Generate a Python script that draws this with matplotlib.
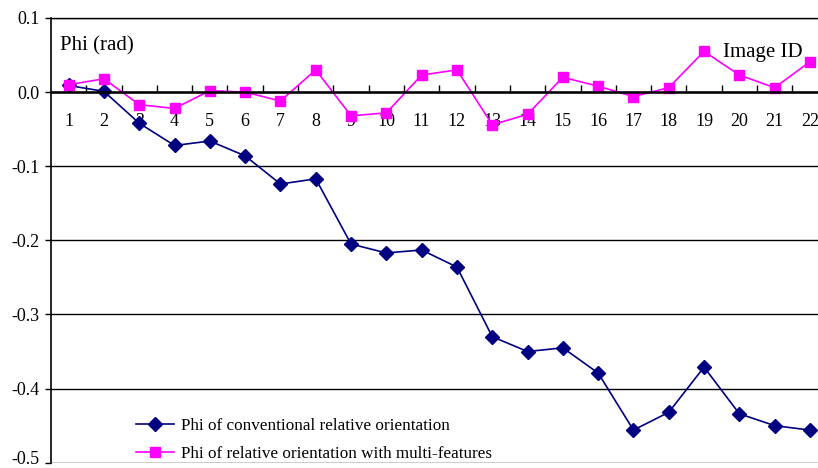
import matplotlib
matplotlib.use('Agg')
import matplotlib.pyplot as plt
import matplotlib.transforms as mtransforms

plt.rcParams['font.family'] = ['Liberation Serif', 'DejaVu Serif']
plt.rcParams['axes.unicode_minus'] = False

image_ids = list(range(1, 23))
phi_conventional = [0.009, 0.001, -0.042, -0.072, -0.066, -0.086, -0.124, -0.117,
                    -0.205, -0.217, -0.213, -0.236, -0.330, -0.350, -0.345, -0.379,
                    -0.456, -0.432, -0.371, -0.434, -0.450, -0.456]
phi_multi = [0.010, 0.018, -0.017, -0.022, 0.002, 0.000, -0.012, 0.030,
             -0.032, -0.028, 0.023, 0.030, -0.044, -0.030, 0.020, 0.008,
             -0.006, 0.006, 0.055, 0.023, 0.006, 0.041]
y_ticks = [-0.5, -0.4, -0.3, -0.2, -0.1, 0.0, 0.1]
y_labels = ['-0.5', '-0.4', '-0.3', '-0.2', '-0.1', '0.0', '0.1']

fig = plt.figure(figsize=(8.18, 4.68), dpi=100)
ax = fig.add_axes([51 / 818, 1 - 462.7 / 468, (827.6 - 51) / 818, (462.7 - 18) / 468])

ax.plot(image_ids, phi_conventional, color='#000080', lw=1.2, marker='D', ms=7,
        label='Phi of conventional relative orientation')
ax.plot(image_ids, phi_multi, color='#FF00FF', lw=1.2, marker='s', ms=7.5,
        label='Phi of relative orientation with multi-features')

ax.set_xlim(0.5, 22.5)
ax.set_ylim(-0.5, 0.1)
ax.set_yticks(y_ticks)
ax.set_yticklabels(y_labels, fontsize=13)
ax.tick_params(axis='y', direction='out', length=4, width=1, pad=4)
ax.grid(axis='y', color='black', lw=1)
ax.set_axisbelow(True)
# keep the bottom label inside the figure
bottom_label = ax.get_yticklabels()[0]
bottom_label.set_transform(bottom_label.get_transform()
                           + mtransforms.ScaledTranslation(0, 5 / 100, fig.dpi_scale_trans))

# category axis crossing at zero
ax.spines['bottom'].set_position(('data', 0))
ax.spines['bottom'].set_linewidth(1.8)
ax.spines['right'].set_visible(False)
ax.spines['top'].set_linewidth(1)
ax.spines['left'].set_linewidth(1.2)
ax.set_xticks([i + 0.5 for i in image_ids[:-1]])
ax.set_xticklabels([])
ax.tick_params(axis='x', which='major', direction='in', length=5, width=1)
ax.set_xticks(image_ids, minor=True)
ax.set_xticklabels([str(i) for i in image_ids], minor=True, fontsize=13)
ax.tick_params(axis='x', which='minor', length=0, pad=15)

fig.text(60 / 818, 1 - 46 / 468, 'Phi (rad)', fontsize=15, va='center')
fig.text(723 / 818, 1 - 52 / 468, 'Image ID', fontsize=15, va='center')

ax.legend(loc='lower left', bbox_to_anchor=(133 / 818, 1 - 465 / 468), bbox_transform=fig.transFigure,
          frameon=False, fontsize=12.3, handlelength=2.2, handletextpad=0.4, labelspacing=0.7,
          borderaxespad=0, borderpad=0.2)

fig.savefig('out.png', dpi=100)
